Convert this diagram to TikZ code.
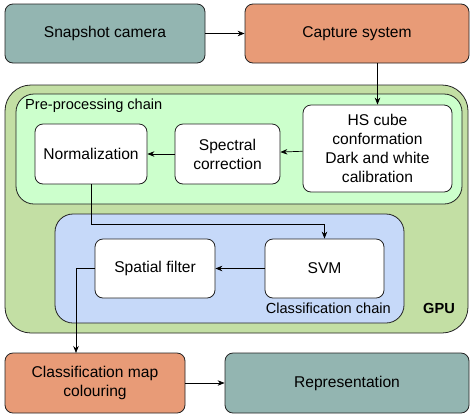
\documentclass[tikz,border=0pt]{standalone}
\usepackage{fontspec}
\setmainfont{Liberation Sans}
\usetikzlibrary{arrows.meta}
\definecolor{tealbox}{HTML}{93B5B1}
\definecolor{orangebox}{HTML}{E89B77}
\definecolor{gpugreen}{HTML}{C3DFA4}
\definecolor{pregreen}{HTML}{CCFFCC}
\definecolor{clsblue}{HTML}{C6D9F9}
\definecolor{edge}{HTML}{222222}

\begin{document}
\begin{tikzpicture}[x=1pt, y=-1pt, align=center,
  box/.style={draw=edge, line width=0.8pt, rounded corners=8pt, fill=white,
    inner sep=0pt, font=\fontsize{15.6}{19}\selectfont},
  chain/.style={draw=edge, line width=0.8pt, inner sep=0pt},
  lbl/.style={inner sep=0pt, font=\fontsize{14.6}{17}\selectfont},
  link/.style={draw=black, line width=0.7pt, -{Stealth[length=7pt, width=5.5pt]}}]

\useasboundingbox (0, 0) rectangle (470, 416);

\draw[chain, fill=gpugreen, rounded corners=26pt] (5, 85) rectangle (468, 333);
\draw[chain, fill=pregreen, rounded corners=18pt] (16, 94) rectangle (462, 204);
\draw[chain, fill=clsblue, rounded corners=18pt] (55, 214) rectangle (404, 323);

\node[lbl, anchor=west] (pre) at (25, 106) {Pre-processing chain};
\node[lbl, anchor=east] (cls) at (391, 308) {Classification chain};
\node[lbl, anchor=east, font=\fontsize{14.6}{17}\selectfont\bfseries] (gpu) at (455, 308) {GPU};

\node[box, fill=tealbox, minimum width=200, minimum height=59] (cam) at (105, 33.5) {Snapshot camera};
\node[box, fill=orangebox, minimum width=224, minimum height=59] (cap) at (357, 33.5) {Capture system};
\node[box, minimum width=149, minimum height=87] (hs) at (377.5, 148.5) {HS cube\\conformation\\Dark and white\\calibration};
\node[box, minimum width=105, minimum height=60] (spec) at (227.5, 154) {Spectral\\correction};
\node[box, minimum width=112, minimum height=60] (norm) at (91, 154) {Normalization};
\node[box, minimum width=119, minimum height=59] (svm) at (324.5, 268.5) {SVM};
\node[box, minimum width=120, minimum height=59] (spat) at (155, 268.5) {Spatial filter};
\node[box, fill=orangebox, minimum width=180, minimum height=60] (map) at (95, 383) {Classification map\\colouring};
\node[box, fill=tealbox, minimum width=244, minimum height=60] (rep) at (347, 383) {Representation};
\coordinate (mapin) at (76, 353);

\draw[link] (cam) -- (cap);
\draw[link] (hs.north |- cap.south) -- (hs.north);
\draw[link] (hs) -- (spec);
\draw[link] (spec) -- (norm);
\draw[link] (norm.south) -- ++(0, 40) -| (svm.north);
\draw[link] (svm) -- (spat);
\draw[link] (spat.west) -| (mapin);
\draw[link] (map) -- (rep);

\end{tikzpicture}
\end{document}
